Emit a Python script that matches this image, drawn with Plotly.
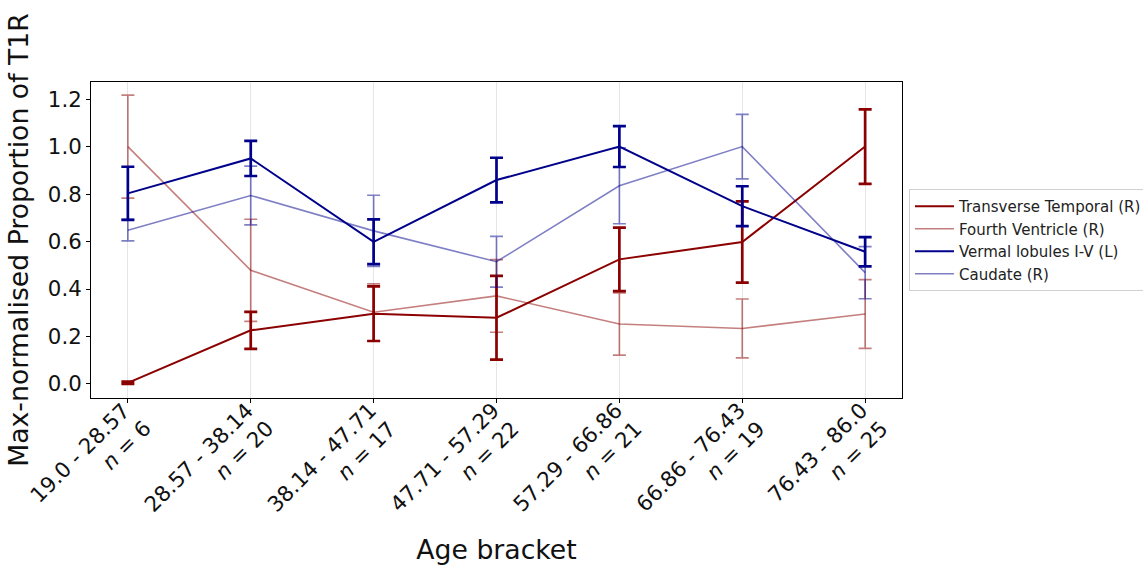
import plotly.graph_objects as go

brackets = ["19.0 - 28.57", "28.57 - 38.14", "38.14 - 47.71", "47.71 - 57.29",
            "57.29 - 66.86", "66.86 - 76.43", "76.43 - 86.0"]
counts = [6, 20, 17, 22, 21, 19, 25]

transverse_temporal = [0.005, 0.226, 0.296, 0.279, 0.525, 0.598, 1.0]
transverse_temporal_err = [0.005, 0.078, 0.115, 0.176, 0.134, 0.171, 0.157]

fourth_ventricle = [1.0, 0.479, 0.302, 0.371, 0.253, 0.234, 0.295]
fourth_ventricle_err = [0.217, 0.215, 0.12, 0.153, 0.131, 0.124, 0.145]

vermal_lobules = [0.803, 0.950, 0.599, 0.859, 1.0, 0.749, 0.557]
vermal_lobules_err = [0.112, 0.074, 0.094, 0.094, 0.086, 0.084, 0.062]

caudate = [0.648, 0.794, 0.645, 0.515, 0.835, 1.0, 0.469]
caudate_err = [0.045, 0.124, 0.15, 0.107, 0.16, 0.136, 0.11]

series = [
    ("Transverse Temporal (R)", transverse_temporal, transverse_temporal_err, "rgb(139,0,0)", 2.0, 2.7),
    ("Fourth Ventricle (R)", fourth_ventricle, fourth_ventricle_err, "rgba(139,0,0,0.5)", 1.6, 1.7),
    ("Vermal lobules I-V (L)", vermal_lobules, vermal_lobules_err, "rgb(0,0,139)", 2.0, 2.7),
    ("Caudate (R)", caudate, caudate_err, "rgba(0,0,139,0.5)", 1.6, 1.7),
]

fig = go.Figure()
for name, vals, errs, color, lw, ew in series:
    fig.add_trace(go.Scatter(
        x=brackets, y=vals, name=name, mode="lines",
        line=dict(color=color, width=lw),
        error_y=dict(type="data", array=errs, visible=True, color=color,
                     thickness=ew, width=6.5),
    ))

font = "DejaVu Sans"
tick_font = dict(size=21.3, family=font, color="#111")

# two-line rotated category labels (right-aligned lines), placed at each category via the x axis
for b, n in zip(brackets, counts):
    fig.add_annotation(
        x=b, xref="x", y=0, yref="paper", text=b,
        textangle=-45, xanchor="right", yanchor="top",
        xshift=10, yshift=3, showarrow=False, font=tick_font,
    )
    fig.add_annotation(
        x=b, xref="x", y=0, yref="paper", text=f"<i>n</i> = {n}",
        textangle=-45, xanchor="right", yanchor="top",
        xshift=30, yshift=-15, showarrow=False, font=tick_font,
    )

fig.update_layout(
    width=1143, height=565, autosize=False,
    margin=dict(l=91, r=241, t=82, b=167, autoexpand=False),
    paper_bgcolor="white", plot_bgcolor="white",
    font=dict(family=font, color="black"),
    showlegend=True,
    legend=dict(x=1.0086, y=0.5, xanchor="left", yanchor="middle",
                bordercolor="#d0d0d0", borderwidth=1, bgcolor="white",
                font=dict(size=15, family=font, color="#222"),
                tracegroupgap=0, itemwidth=39),
    xaxis=dict(
        type="category", range=[-0.3, 6.3],
        showgrid=True, gridcolor="#e6e6e6", gridwidth=1,
        showline=True, linecolor="black", linewidth=1, mirror=True,
        ticks="outside", ticklen=4, tickcolor="black",
        showticklabels=False,
        title=dict(text="Age bracket", font=dict(size=26.7, family=font, color="#111"), standoff=141),
        automargin=False,
    ),
    yaxis=dict(
        range=[-0.059, 1.272], tickvals=[0, 0.2, 0.4, 0.6, 0.8, 1.0, 1.2],
        ticktext=["0.0", "0.2", "0.4", "0.6", "0.8", "1.0", "1.2"],
        showgrid=False, zeroline=False,
        showline=True, linecolor="black", linewidth=1, mirror=True,
        ticks="outside", ticklen=4, tickcolor="black",
        tickfont=tick_font,
        title=dict(text="Max-normalised Proportion of T1R", font=dict(size=26.7, family=font, color="#111"), standoff=11),
        automargin=False,
    ),
)

fig.write_html("out.html")
